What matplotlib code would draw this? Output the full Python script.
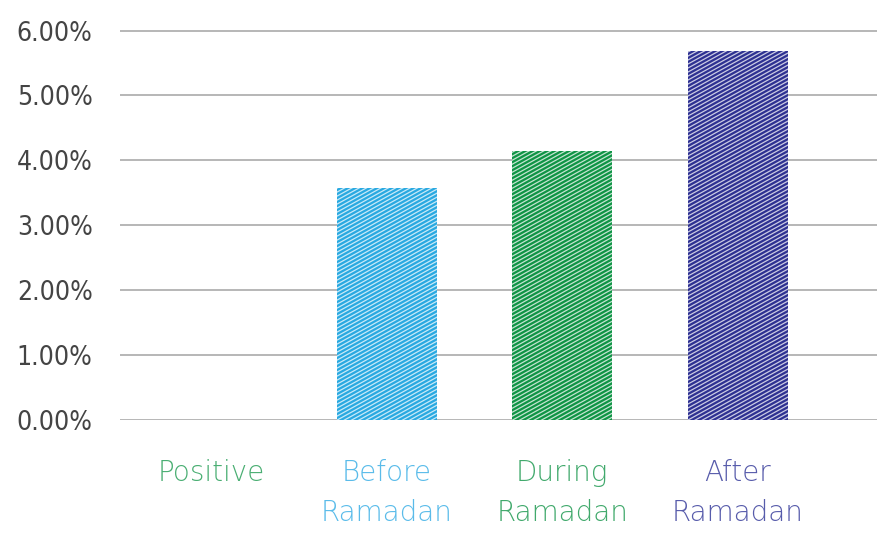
import matplotlib.pyplot as plt
import numpy as np
from matplotlib.lines import Line2D

categories = ["Positive", "Before\nRamadan", "During\nRamadan", "After\nRamadan"]
values = [0.0, 3.57, 4.15, 5.69]
bar_colors = ["#1f9a4c", "#29a9e1", "#0f9445", "#2e3192"]
label_colors = ["#2aa05a", "#3db0e6", "#1f9a52", "#3a3f9c"]
yticks = [0, 1, 2, 3, 4, 5, 6]

fig = plt.figure(figsize=(8.78, 5.34), dpi=100)
ax = fig.add_axes([0.137, 0.213, 0.863, 0.73])

x = np.arange(len(categories))
bars = ax.bar(x, values, width=0.57, color=bar_colors, zorder=2)

ax.set_xlim(-0.52, 3.8)
ax.set_yticks(yticks)
ax.set_yticklabels(["%.2f%%" % v for v in yticks], fontsize=19,
                   family="DejaVu Sans", stretch="condensed", color="#444444")
ax.set_xticks(x)
ax.set_xticklabels(categories, fontsize=20, family="DejaVu Sans",
                   fontweight="light", linespacing=1.55)
for lab, c in zip(ax.get_xticklabels(), label_colors):
    lab.set_color(c)
    lab.set_alpha(0.85)
ax.tick_params(axis="both", length=0)
ax.tick_params(axis="x", pad=28)
ax.tick_params(axis="y", pad=20)
ax.grid(axis="y", color="#aaaaaa", linewidth=1.2, zorder=1)
ax.set_axisbelow(True)
for s in ax.spines.values():
    s.set_visible(False)
ax.set_ylim(-0.001, 6.001)

# sketchy white hatching over each bar
fig.canvas.draw()
for b in bars:
    if b.get_height() <= 0:
        continue
    bb = b.get_window_extent()
    x0, x1, y0, y1 = bb.x0, bb.x1, bb.y0, bb.y1
    slope = 0.55
    step = 4.0
    c = y0 - slope * x1 - 5
    while c < y1 - slope * x0 + 5:
        xs = np.array([x0 - 5, x1 + 5])
        ln = Line2D(xs, slope * xs + c, color="white", linewidth=0.9,
                    alpha=0.75, transform=None, zorder=3)
        ln.set_clip_path(b)
        fig.add_artist(ln)
        c += step

fig.savefig("out.png", dpi=100)
